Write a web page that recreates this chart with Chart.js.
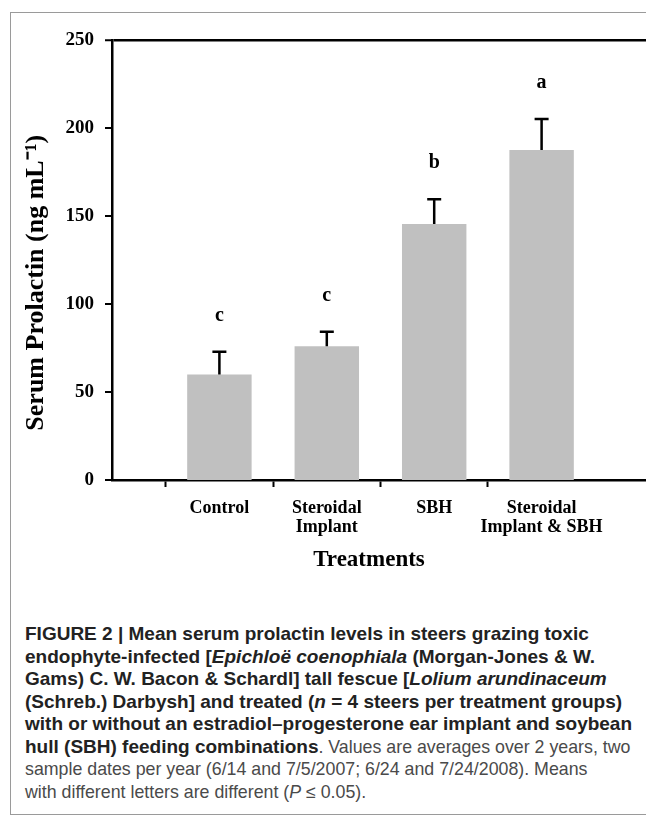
<!DOCTYPE html>
<html>
<head>
<meta charset="utf-8">
<script src="https://cdn.jsdelivr.net/npm/chart.js@4"></script>
<style>
  html, body { margin: 0; padding: 0; background: #fff; overflow: hidden; width: 646px; height: 816px; }
  #frame { position: absolute; left: 10px; top: 12px; width: 700px; height: 801px;
           border-top: 1.5px solid #9a9a9a; border-left: 1.5px solid #9a9a9a; border-bottom: 1.5px solid #9a9a9a; }
  #wrap { position: absolute; left: 0; top: 0; }
  #caption { position: absolute; left: 25px; top: 623px; white-space: nowrap;
             font-family: "Liberation Sans", Arial, sans-serif; font-size: 17.8px; line-height: 22.5px; color: #4a4a4a; }
  #caption b { color: #222; font-size: 19px; }
</style>
</head>
<body>
<div id="frame"></div>
<div id="wrap"><canvas id="chart" width="660" height="600"></canvas></div>
<div id="caption">
  <b>FIGURE 2 | Mean serum prolactin levels in steers grazing toxic<br>
  endophyte-infected [<i>Epichloë coenophiala</i> (Morgan-Jones &amp; W.<br>
  Gams) C. W. Bacon &amp; Schardl] tall fescue [<i>Lolium arundinaceum</i><br>
  (Schreb.) Darbysh] and treated (<i>n</i> = 4 steers per treatment groups)<br>
  with or without an estradiol–progesterone ear implant and soybean<br>
  hull (SBH) feeding combinations</b>. Values are averages over 2 years, two<br>
  sample dates per year (6/14 and 7/5/2007; 6/24 and 7/24/2008). Means<br>
  with different letters are different (<i>P</i> ≤ 0.05).
</div>
<script>
// Dữ liệu biểu đồ
const treatments = ['', 'Control', ['Steroidal', 'Implant'], 'SBH', ['Steroidal', 'Implant & SBH'], ''];
const prolactinMeans = [null, 60, 76, 145.5, 187.5, null];
const prolactinErrors = [null, 12.8, 8.3, 14, 17.6, null];
const groupLetters = [null, 'c', 'c', 'b', 'a', null];
const yTicks = [0, 50, 100, 150, 200, 250];

const serif = '"Liberation Serif", "Times New Roman", serif';

// Vẽ thanh sai số và chữ cái phân nhóm
const errorBarPlugin = {
    id: 'errorBars',
    afterDatasetsDraw(chart) {
        const ctx = chart.ctx;
        const meta = chart.getDatasetMeta(0);
        const y = chart.scales.y;
        ctx.save();
        ctx.strokeStyle = '#000';
        ctx.lineWidth = 2.5;
        meta.data.forEach((bar, i) => {
            if (prolactinMeans[i] == null) return;
            const top = y.getPixelForValue(prolactinMeans[i] + prolactinErrors[i]);
            ctx.beginPath();
            ctx.moveTo(bar.x, bar.y);
            ctx.lineTo(bar.x, top);
            ctx.moveTo(bar.x - 7, top);
            ctx.lineTo(bar.x + 7, top);
            ctx.stroke();
            ctx.fillStyle = '#000';
            ctx.font = 'bold 20px ' + serif;
            ctx.textAlign = 'center';
            ctx.textBaseline = 'middle';
            ctx.fillText(groupLetters[i], bar.x, top - 36);
        });
        ctx.restore();
    }
};

const ctx = document.getElementById('chart').getContext('2d');
new Chart(ctx, {
    type: 'bar',
    data: {
        labels: treatments,
        datasets: [{
            data: prolactinMeans,
            backgroundColor: '#c0c0c0',
            barPercentage: 0.6,
            categoryPercentage: 1,
        }],
    },
    options: {
        responsive: false,
        animation: false,
        layout: { padding: { top: 40, left: 0, right: 11, bottom: 0 } },
        plugins: { legend: { display: false }, tooltip: { enabled: false } },
        scales: {
            x: {
                offset: false,
                afterFit: (s) => { s.height = 120; },
                grid: {
                    drawOnChartArea: false,
                    tickLength: 7,
                    tickWidth: 2,
                    tickColor: (c) => (c.index === 0 || c.index === treatments.length - 1) ? 'rgba(0,0,0,0)' : '#000',
                },
                border: { color: '#000', width: 2.5 },
                ticks: {
                    color: '#000',
                    padding: 11,
                    maxRotation: 0,
                    autoSkip: false,
                    font: { family: serif, size: 18, weight: 'bold', lineHeight: 1.1 },
                },
                title: {
                    display: true,
                    text: 'Treatments\u00a0\u00a0\u00a0\u00a0',
                    color: '#000',
                    font: { family: serif, size: 23, weight: 'bold' },
                    padding: { top: 0, bottom: 26 },
                },
            },
            y: {
                min: 0,
                max: 250,
                afterFit: (s) => { s.width = 112; },
                afterBuildTicks: (s) => { s.ticks = yTicks.map(v => ({ value: v })); },
                grid: {
                    drawOnChartArea: true,
                    color: (c) => c.tick && c.tick.value === 250 ? '#000' : 'rgba(0,0,0,0)',
                    lineWidth: (c) => c.tick && c.tick.value === 250 ? 2.5 : 0,
                    tickLength: 7,
                    tickWidth: 2,
                    tickColor: '#000',
                },
                border: { color: '#000', width: 2.5 },
                ticks: {
                    color: '#000',
                    padding: 11,
                    font: { family: serif, size: 19, weight: 'bold' },
                },
                title: {
                    display: true,
                    text: 'Serum Prolactin (ng mL\u207b\u00b9)\u00a0\u00a0\u00a0\u00a0\u00a0\u00a0\u00a0',
                    color: '#000',
                    font: { family: serif, size: 26, weight: 'bold' },
                    padding: { top: 21, bottom: 0 },
                },
            },
        },
    },
    plugins: [errorBarPlugin],
});
</script>
</body>
</html>
